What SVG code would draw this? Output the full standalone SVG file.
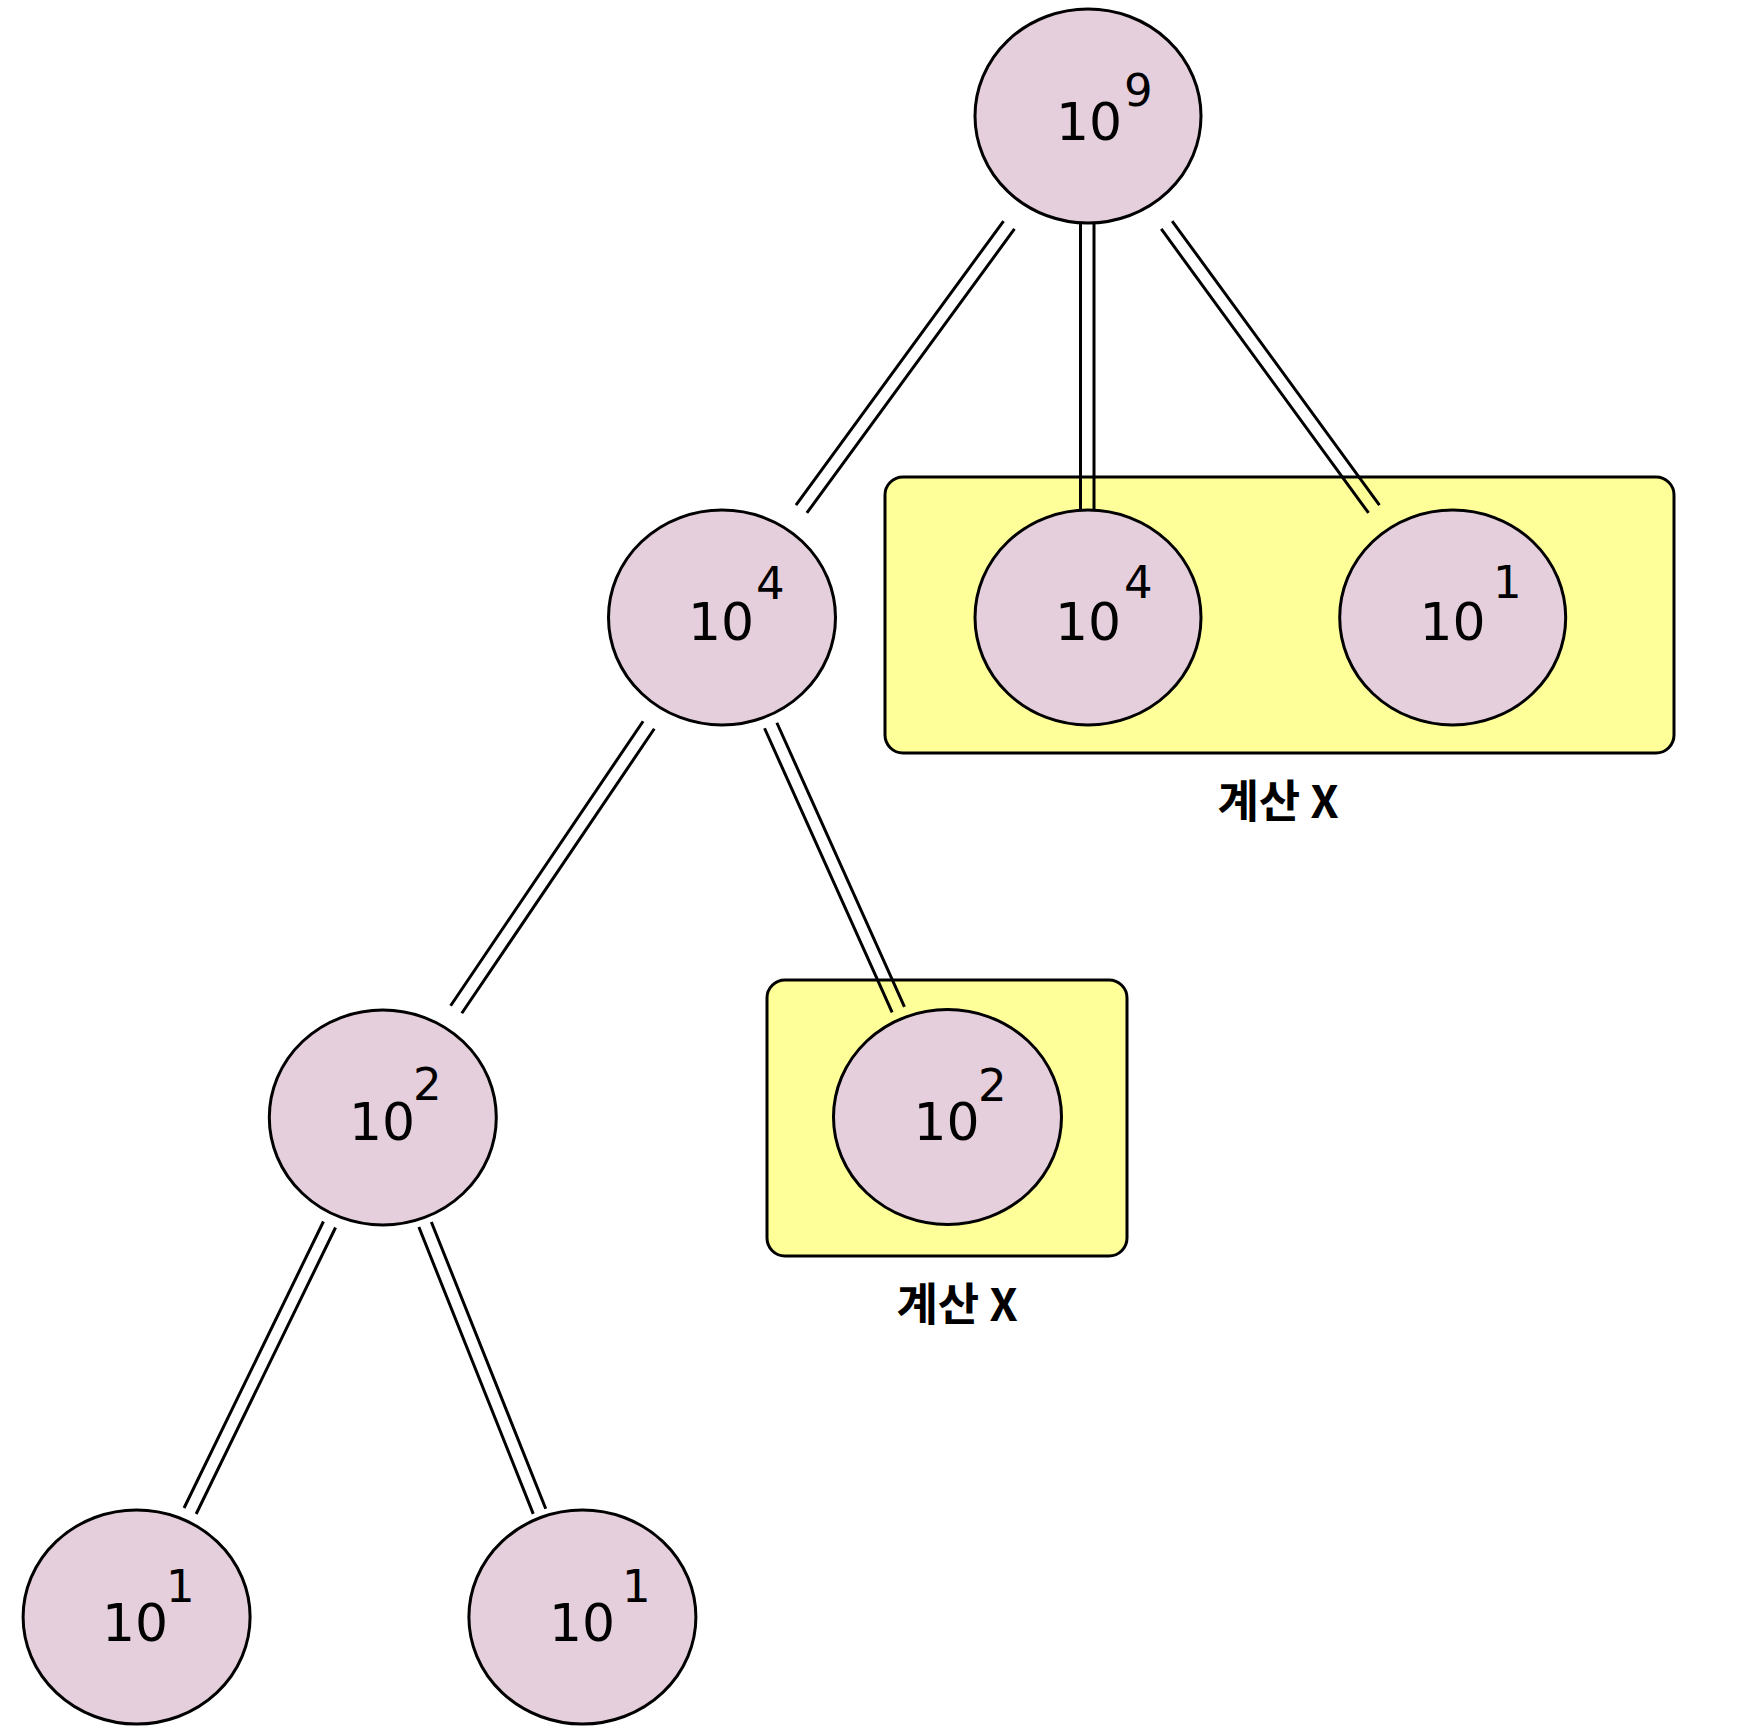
<svg xmlns="http://www.w3.org/2000/svg" width="1739" height="1731" viewBox="0 0 1739 1731">
<style>
.bg{fill:#ffffff}
.box{fill:#ffff99;stroke:#000;stroke-width:3}
.node{fill:#e5cfdc;stroke:#000;stroke-width:3}
.edge{fill:none;stroke:#000;stroke-width:3;stroke-linecap:butt}
.num{font-family:'DejaVu Sans',Verdana,sans-serif;font-size:52px;fill:#000}
.sup{font-family:'DejaVu Sans',Verdana,sans-serif;font-size:45px;fill:#000}
.lbl{font-family:'Noto Sans CJK KR',sans-serif;font-size:45px;font-weight:bold;fill:#000;text-anchor:middle}
</style>
<rect class="bg" x="0" y="0" width="1739" height="1731"/>
<g id="cluster1">
<rect class="box" x="885" y="477" width="789" height="276" rx="18"/>
<text class="lbl" x="1278" y="818">계산 X</text>
</g>
<g id="cluster2">
<rect class="box" x="767" y="980" width="360" height="276" rx="18"/>
<text class="lbl" x="957" y="1321">계산 X</text>
</g>
<g id="connectors">
<path class="edge" d="M1003.55 221.02L795.95 505.02M1014.45 228.98L806.85 512.98"/>
<path class="edge" d="M1080.5 222L1080.5 510M1094 222L1094 510"/>
<path class="edge" d="M1161.25 228.98L1368.55 512.98M1172.15 221.02L1379.45 505.02"/>
<path class="edge" d="M643.11 721.22L450.61 1005.72M654.29 728.78L461.79 1013.28"/>
<path class="edge" d="M764.54 728.26L892.14 1012.46M776.86 722.74L904.46 1006.94"/>
<path class="edge" d="M323.45 1221.5L184.05 1508M335.55 1227.5L196.15 1514"/>
<path class="edge" d="M418.85 1227.05L533.25 1513.85M431.35 1221.95L545.75 1508.75"/>
</g>
<g id="n-root">
<ellipse class="node" cx="1088" cy="116" rx="113" ry="107"/>
<text class="num" x="1056" y="140">10</text><text class="sup" x="1124" y="106">9</text>
</g>
<g id="n-4a">
<ellipse class="node" cx="722" cy="617.5" rx="113.5" ry="107.5"/>
<text class="num" x="688" y="640">10</text><text class="sup" x="756" y="599">4</text>
</g>
<g id="n-4b">
<ellipse class="node" cx="1088" cy="617.5" rx="113" ry="107.5"/>
<text class="num" x="1055" y="640">10</text><text class="sup" x="1124" y="598">4</text>
</g>
<g id="n-1a">
<ellipse class="node" cx="1452.7" cy="617.5" rx="113" ry="107.5"/>
<text class="num" x="1419.5" y="640">10</text><text class="sup" x="1493" y="598">1</text>
</g>
<g id="n-2a">
<ellipse class="node" cx="382.8" cy="1117.5" rx="113.5" ry="107.5"/>
<text class="num" x="349" y="1140">10</text><text class="sup" x="413" y="1100">2</text>
</g>
<g id="n-2b">
<ellipse class="node" cx="947.5" cy="1117" rx="114" ry="107.5"/>
<text class="num" x="913.5" y="1140">10</text><text class="sup" x="978" y="1101">2</text>
</g>
<g id="n-1b">
<ellipse class="node" cx="136.6" cy="1617" rx="113.5" ry="107"/>
<text class="num" x="102" y="1641">10</text><text class="sup" x="166" y="1602">1</text>
</g>
<g id="n-1c">
<ellipse class="node" cx="582.4" cy="1617" rx="113.5" ry="107"/>
<text class="num" x="549" y="1641">10</text><text class="sup" x="622" y="1602">1</text>
</g>
</svg>
